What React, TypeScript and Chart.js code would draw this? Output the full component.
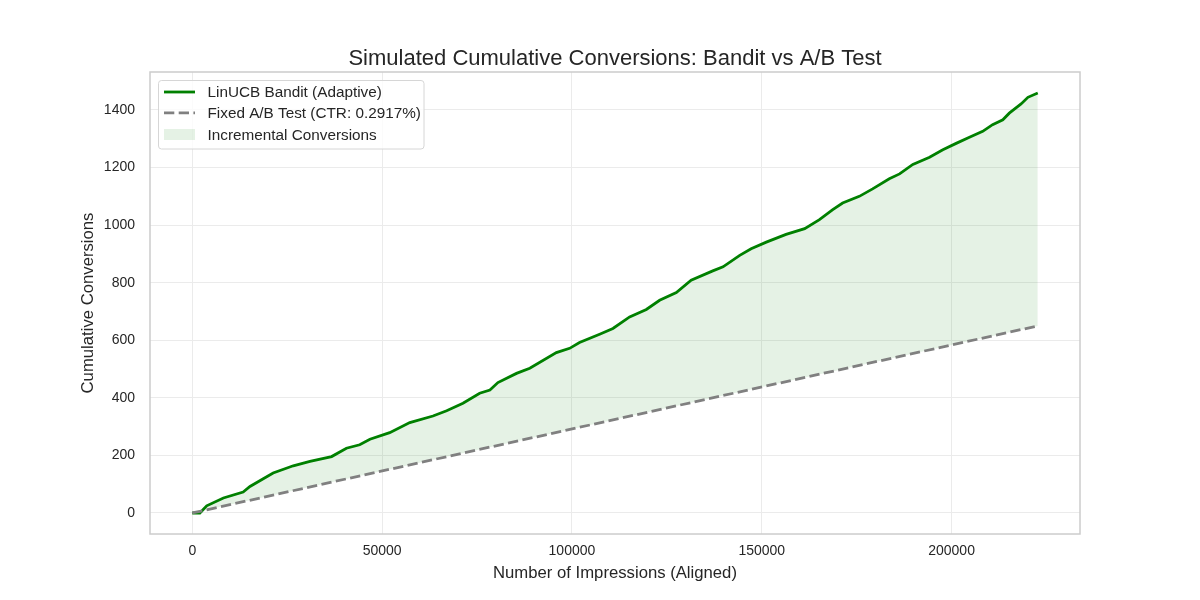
import React, { useEffect, useRef } from 'react';
import { Chart, registerables } from 'chart.js';

Chart.register(...registerables);

// Bandit curve (impressions -> cumulative conversions)
const banditImpressions = [
  0, 2000, 3800, 8200, 13400, 15200, 18700, 21300, 26600, 31000, 36700, 40600, 44100, 46800,
  52000, 57300, 63400, 67000, 71300, 75700, 78400, 80500, 85400, 88900, 95900, 99400, 102000,
  107300, 110800, 115200, 119600, 123100, 127500, 131400, 137100, 139800, 144200, 147200,
  151200, 156400, 161300, 165200, 168700, 171300, 175700, 179200, 183600, 186300, 189800,
  194200, 197700, 201200, 204700, 208200, 210800, 213500, 215200, 218300, 220100, 222700,
];
const banditConversions = [
  0, 0, 25, 52, 73, 92, 119, 139, 164, 179, 196, 225, 237, 256,
  279, 314, 337, 355, 381, 416, 427, 453, 485, 503, 557, 572, 592,
  621, 641, 681, 707, 739, 766, 809, 841, 855, 895, 918,
  941, 968, 988, 1019, 1054, 1077, 1100, 1126, 1161, 1178, 1211,
  1236, 1262, 1284, 1305, 1326, 1349, 1366, 1389, 1421, 1444, 1459,
];

// Fixed A/B test line (straight, end points)
const abImpressions = [0, 222700];
const abConversions = [0, 650];

const xTicks = [0, 50000, 100000, 150000, 200000];
const yTicks = [0, 200, 400, 600, 800, 1000, 1200, 1400];

const legendLabels = [
  'LinUCB Bandit (Adaptive)',
  'Fixed A/B Test (CTR: 0.2917%)',
  'Incremental Conversions',
];

const FONT = '"Liberation Sans", Arial, sans-serif';
const TEXT = '#262626';

const frameAndLegend = {
  id: 'frameAndLegend',
  afterDraw(chart: any) {
    const { ctx, chartArea } = chart;
    const { left, right, top, bottom } = chartArea;
    ctx.save();

    // spines
    ctx.strokeStyle = '#cccccc';
    ctx.lineWidth = 1.5;
    ctx.strokeRect(left, top, right - left, bottom - top);

    // title
    ctx.fillStyle = TEXT;
    ctx.font = `22px ${FONT}`;
    ctx.textAlign = 'center';
    ctx.textBaseline = 'alphabetic';
    ctx.fillText('Simulated Cumulative Conversions: Bandit vs A/B Test', (left + right) / 2, 65);

    // legend box
    const bx = left + 8.5;
    const by = top + 8.5;
    const bw = 265.5;
    const bh = 68.5;
    ctx.beginPath();
    if (ctx.roundRect) ctx.roundRect(bx, by, bw, bh, 3);
    else ctx.rect(bx, by, bw, bh);
    ctx.fillStyle = 'rgba(255,255,255,0.8)';
    ctx.fill();
    ctx.strokeStyle = '#d6d6d6';
    ctx.lineWidth = 1;
    ctx.stroke();

    const rows = [top + 20, top + 40.8, top + 62.5];
    const hx0 = left + 14;
    const hx1 = left + 45;
    const tx = left + 57.5;

    ctx.lineWidth = 2.8;
    ctx.strokeStyle = '#008000';
    ctx.beginPath();
    ctx.moveTo(hx0, rows[0]);
    ctx.lineTo(hx1, rows[0]);
    ctx.stroke();

    ctx.strokeStyle = '#808080';
    ctx.setLineDash([10.3, 4.4]);
    ctx.beginPath();
    ctx.moveTo(hx0, rows[1]);
    ctx.lineTo(hx1, rows[1]);
    ctx.stroke();
    ctx.setLineDash([]);

    ctx.fillStyle = 'rgba(0,128,0,0.1)';
    ctx.fillRect(hx0, rows[2] - 5.5, hx1 - hx0, 11);

    ctx.fillStyle = TEXT;
    ctx.font = `15.3px ${FONT}`;
    ctx.textAlign = 'left';
    ctx.textBaseline = 'middle';
    legendLabels.forEach((t, i) => ctx.fillText(t, tx, rows[i] + 1));

    ctx.restore();
  },
};

const App: React.FC = () => {
  const canvasRef = useRef<HTMLCanvasElement>(null);
  const chartRef = useRef<Chart | null>(null);

  useEffect(() => {
    document.body.style.margin = '0';
    if (!canvasRef.current) return;
    if (chartRef.current) chartRef.current.destroy();

    const bandit = banditImpressions.map((x, i) => ({ x, y: banditConversions[i] }));
    const ab = abImpressions.map((x, i) => ({ x, y: abConversions[i] }));

    chartRef.current = new Chart(canvasRef.current, {
      type: 'line',
      data: {
        datasets: [
          {
            label: legendLabels[0],
            data: bandit,
            borderColor: '#008000',
            borderWidth: 2.8,
            pointRadius: 0,
            tension: 0,
            fill: { target: 1 },
            backgroundColor: 'rgba(0,128,0,0.1)',
            order: 1,
          },
          {
            label: legendLabels[1],
            data: ab,
            borderColor: '#808080',
            borderWidth: 2.8,
            borderDash: [10.3, 4.4],
            pointRadius: 0,
            fill: false,
            order: 0,
          },
        ],
      },
      options: {
        responsive: false,
        animation: false,
        devicePixelRatio: 1,
        layout: { padding: { top: 72, right: 120, left: 0, bottom: 0 } },
        plugins: {
          legend: { display: false },
          title: { display: false },
          tooltip: { enabled: false },
        },
        scales: {
          x: {
            type: 'linear',
            min: -11134,
            max: 233824,
            afterBuildTicks: (scale: any) => {
              scale.ticks = xTicks.map((value) => ({ value }));
            },
            afterFit: (scale: any) => {
              scale.height = 66;
            },
            grid: { color: '#ebebeb', lineWidth: 1, drawTicks: false },
            border: { display: false },
            ticks: {
              color: TEXT,
              font: { family: FONT, size: 14 },
              padding: 9,
              maxRotation: 0,
              callback: (v: any) => String(v),
            },
            title: {
              display: true,
              text: 'Number of Impressions (Aligned)',
              color: TEXT,
              font: { family: FONT, size: 16.7 },
              padding: { top: 0, bottom: 17 },
            },
          },
          y: {
            type: 'linear',
            min: -73,
            max: 1532,
            afterBuildTicks: (scale: any) => {
              scale.ticks = yTicks.map((value) => ({ value }));
            },
            afterFit: (scale: any) => {
              scale.width = 150;
            },
            grid: { color: '#ebebeb', lineWidth: 1, drawTicks: false },
            border: { display: false },
            ticks: {
              color: TEXT,
              font: { family: FONT, size: 14 },
              padding: 15,
              callback: (v: any) => String(v),
            },
            title: {
              display: true,
              text: 'Cumulative Conversions',
              color: TEXT,
              font: { family: FONT, size: 16.7 },
              padding: { top: 78, bottom: 0 },
            },
          },
        },
      },
      plugins: [frameAndLegend],
    });

    return () => {
      if (chartRef.current) {
        chartRef.current.destroy();
        chartRef.current = null;
      }
    };
  }, []);

  return (
    <div style={{ position: 'absolute', left: 0, top: 0, width: 1200, height: 600, background: '#fff' }}>
      <canvas ref={canvasRef} width={1200} height={600} style={{ width: 1200, height: 600 }}></canvas>
    </div>
  );
};

export default App;
